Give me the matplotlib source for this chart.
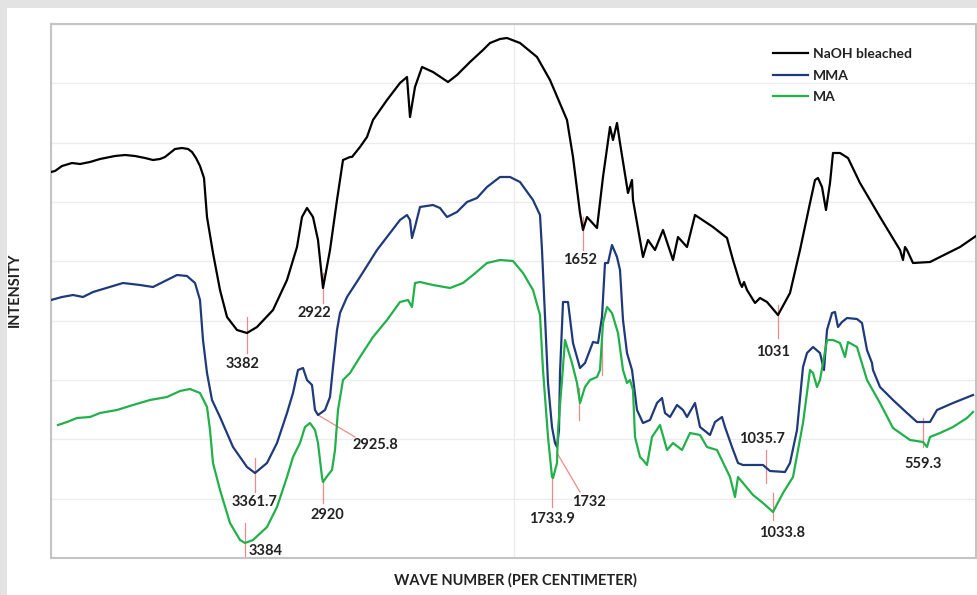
import numpy as np
import matplotlib.pyplot as plt
from matplotlib.patches import Rectangle

# positions along the wave-number axis (0..925) and intensity (0..534)
naoh_x = [0, 4, 11, 21, 29, 39, 49, 64, 74, 84, 94, 102, 109, 114, 119, 124, 131, 137, 141, 145,
          149, 153, 156, 162, 169, 176, 186, 196, 206, 222, 236, 246, 251, 256, 262, 267, 272, 279,
          286, 292, 299, 301, 309, 316, 322, 336, 349, 356, 359, 364, 371, 382, 397, 406, 419, 432,
          439, 449, 456, 469, 486, 499, 516, 522, 529, 532, 536, 546, 552, 559, 562, 566, 569, 577,
          581, 582, 592, 597, 604, 612, 622, 627, 636, 644, 662, 676, 682, 689, 691, 693, 696, 704,
          709, 716, 727, 739, 749, 759, 764, 767, 771, 775, 779, 782, 789, 797, 809, 829, 849, 852,
          854, 856, 862, 879, 889, 909, 925]
naoh_y = [386, 387, 392, 395, 394, 396, 399, 402, 403, 402, 400, 398, 399, 401, 405, 409, 410, 409,
          406, 400, 392, 380, 341, 305, 268, 241, 228, 225, 231, 248, 278, 311, 341, 350, 341, 318,
          270, 308, 358, 398, 401, 401, 411, 421, 438, 458, 475, 481, 441, 471, 491, 486, 476, 483,
          496, 508, 515, 519, 520, 515, 501, 478, 438, 401, 345, 328, 341, 330, 381, 431, 418, 435,
          415, 365, 378, 358, 301, 318, 308, 328, 298, 321, 311, 343, 331, 320, 298, 275, 271, 276,
          268, 255, 260, 256, 243, 265, 308, 355, 378, 380, 371, 348, 375, 405, 405, 400, 375, 341,
          308, 298, 311, 308, 295, 296, 301, 311, 322]

mma_x = [0, 11, 22, 32, 42, 72, 89, 102, 116, 126, 136, 144, 149, 152, 156, 161, 169, 182, 196, 204,
         216, 226, 236, 242, 247, 252, 256, 261, 264, 267, 274, 279, 282, 286, 289, 296, 309, 326,
         339, 349, 356, 359, 361, 364, 369, 382, 389, 396, 406, 416, 426, 436, 449, 459, 469, 482,
         489, 491, 494, 497, 501, 504, 506, 508, 509, 512, 517, 522, 529, 534, 542, 547, 551, 554,
         557, 561, 566, 569, 572, 576, 581, 586, 592, 599, 606, 611, 614, 619, 626, 632, 636, 644,
         649, 659, 664, 671, 674, 681, 687, 692, 712, 719, 734, 739, 746, 752, 756, 762, 769, 773,
         776, 781, 784, 787, 791, 796, 806, 811, 816, 821, 822, 829, 842, 856, 866, 879, 886, 902,
         922]
mma_y = [258, 261, 263, 261, 266, 275, 273, 271, 278, 283, 282, 275, 258, 218, 185, 158, 141, 111,
         91, 85, 95, 115, 145, 165, 188, 190, 178, 173, 148, 143, 148, 161, 191, 228, 245, 261, 281,
         308, 325, 338, 343, 338, 320, 331, 351, 353, 350, 341, 346, 356, 360, 371, 381, 381, 376,
         358, 343, 308, 241, 175, 131, 115, 111, 128, 185, 256, 256, 215, 190, 195, 216, 215, 241,
         295, 295, 313, 301, 288, 238, 205, 188, 148, 135, 138, 155, 160, 145, 141, 153, 148, 141,
         155, 131, 123, 136, 141, 131, 111, 95, 93, 93, 87, 86, 95, 128, 191, 205, 211, 205, 188,
         228, 245, 246, 231, 236, 240, 239, 235, 208, 195, 188, 171, 158, 145, 136, 136, 148, 155,
         163]

ma_x = [7, 16, 26, 39, 49, 66, 82, 99, 116, 129, 139, 149, 156, 159, 162, 169, 179, 189, 194, 202,
        216, 226, 236, 242, 249, 254, 259, 264, 267, 271, 272, 277, 281, 284, 287, 292, 299, 309,
        322, 336, 349, 357, 361, 364, 369, 382, 399, 412, 422, 436, 449, 462, 472, 482, 489, 492,
        497, 501, 502, 506, 507, 511, 514, 521, 526, 529, 534, 539, 546, 549, 552, 556, 561, 567,
        572, 576, 579, 582, 584, 589, 592, 596, 601, 609, 616, 622, 631, 639, 649, 656, 666, 679,
        684, 687, 692, 702, 712, 722, 732, 742, 752, 759, 762, 766, 769, 776, 782, 789, 794, 797,
        806, 816, 829, 842, 859, 872, 876, 879, 889, 902, 916, 922]
ma_y = [133, 136, 140, 141, 145, 148, 153, 158, 161, 167, 169, 165, 151, 128, 95, 68, 35, 18, 15, 18,
        31, 51, 81, 101, 115, 131, 135, 128, 115, 81, 76, 83, 88, 108, 148, 178, 185, 201, 221, 238,
        256, 258, 251, 275, 276, 273, 270, 275, 283, 295, 298, 297, 285, 268, 243, 188, 121, 81, 80,
        95, 128, 178, 218, 195, 175, 155, 171, 178, 181, 188, 235, 251, 245, 225, 188, 175, 178, 168,
        121, 101, 98, 93, 121, 133, 108, 115, 108, 125, 123, 111, 108, 81, 61, 81, 75, 63, 55, 46, 65,
        81, 135, 188, 185, 171, 178, 218, 218, 215, 201, 216, 211, 178, 155, 130, 118, 116, 111, 121,
        125, 131, 140, 146]

# peak labels: text, marker line (x0, y0, x1, y1), label position, alignment
peak_labels = ['3382', '2922', '3361.7', '2925.8', '2920', '3384', '1652', '1031',
               '1733.9', '1732', '1035.7', '1033.8', '559.3', '', '']
peak_lines = [(196, 241, 196, 205), (272, 285, 272, 255), (204, 100, 204, 66),
              (267, 143, 304, 121), (272, 76, 272, 55), (194, 35, 194, 0),
              (532, 341, 532, 308), (727, 253, 727, 220), (501, 80, 501, 51),
              (506, 105, 529, 66), (715, 108, 715, 75), (722, 65, 722, 38),
              (872, 140, 872, 111), (528, 170, 528, 138), (551, 216, 551, 183)]
peak_text_pos = [(192, 194), (263, 245), (204, 56), (324, 113), (276, 43), (198, 7),
                 (529, 298), (722, 206), (501, 39), (538, 56), (711, 119), (731, 25),
                 (872, 94), (0, 0), (0, 0)]
peak_ha = ['center'] * 5 + ['left'] + ['center'] * 9

fig = plt.figure(figsize=(9.77, 5.95), dpi=100, facecolor='#e3e3e3')
fig.patches.append(Rectangle((7 / 977, 0), 1, 587 / 595, transform=fig.transFigure,
                             facecolor='white', edgecolor='none', zorder=-10))
ax = fig.add_axes([51 / 977, 37 / 595, 925 / 977, 534 / 595])
ax.set_zorder(5)
ax.set_facecolor('white')

ax.plot(naoh_x, naoh_y, color='black', lw=1.6, label='NaOH bleached', zorder=3)
ax.plot(mma_x, mma_y, color='#1f3a7a', lw=1.6, label='MMA', zorder=3)
ax.plot(ma_x, ma_y, color='#22b04b', lw=1.6, label='MA', zorder=3)

for lab, (x0, y0, x1, y1), (tx, ty), ha in zip(peak_labels, peak_lines, peak_text_pos, peak_ha):
    ax.plot([x0, x1], [y0, y1], color='#f08a8a', lw=0.9, zorder=2)
    if lab:
        ax.text(tx, ty, lab, ha=ha, va='center', fontsize=10.5, fontweight='bold',
                family='Lato', color='#222222', zorder=4)

ax.set_xlim(0, 925)
ax.set_ylim(0, 534)
ax.set_xticks([0, 462.5, 925])
ax.set_yticks(np.linspace(0, 534, 10))
ax.grid(True, color='#ececec', lw=1.0, zorder=0)
ax.tick_params(left=False, bottom=False, labelleft=False, labelbottom=False)
for s in ax.spines.values():
    s.set_color('#c4c4c4')
    s.set_linewidth(1.5)

leg = ax.legend(loc='upper left', bbox_to_anchor=(0.767, 0.978), frameon=False,
                handlelength=2.5, handletextpad=0.4, labelspacing=0.68,
                prop={'family': 'Lato', 'weight': 'bold', 'size': 10})
for t in leg.get_texts():
    t.set_color('#222222')

fig.text(15 / 977, 0.513, 'INTENSITY', rotation=90, ha='center', va='center',
         fontsize=10.5, fontweight='bold', family='Lato', color='#222222')
fig.text(515 / 977, 15 / 595, 'WAVE NUMBER (PER CENTIMETER)', ha='center', va='center',
         fontsize=10.5, fontweight='bold', family='Lato', color='#222222')

fig.savefig('out.png', dpi=100, facecolor=fig.get_facecolor())
